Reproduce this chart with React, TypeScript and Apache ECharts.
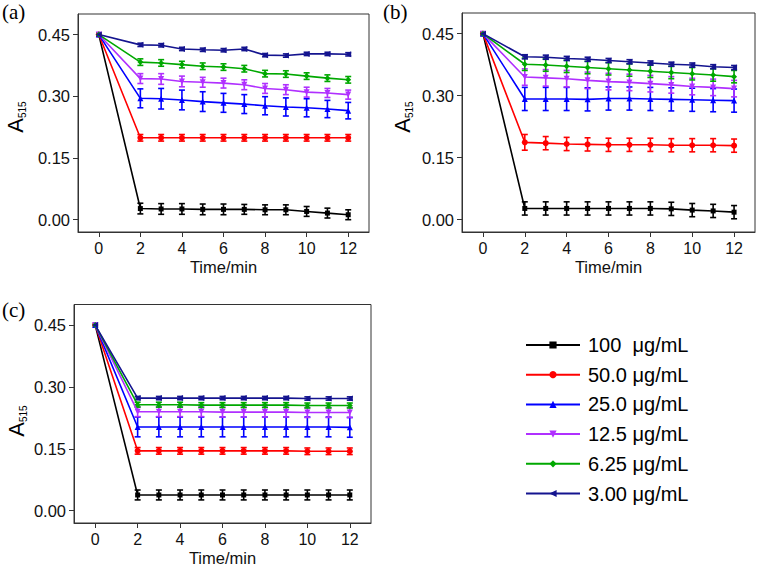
import React, { useEffect, useRef } from "react";
import * as echarts from "echarts";

// ---------- data ----------
const TIME = [0, 2, 3, 4, 5, 6, 7, 8, 9, 10, 11, 12];
const X_TICKS = [0, 2, 4, 6, 8, 10, 12];
const Y_TICKS = [0, 0.15, 0.3, 0.45];
const SERIES_NAMES = ["100  μg/mL", "50.0 μg/mL", "25.0 μg/mL", "12.5 μg/mL", "6.25 μg/mL", "3.00 μg/mL"];
const PANEL_LABELS = ["(a)", "(b)", "(c)"];

// Panel (a)
const a100 = [0.45, 0.027, 0.026, 0.026, 0.025, 0.025, 0.025, 0.024, 0.024, 0.02, 0.016, 0.012];
const a50 = [0.45, 0.199, 0.199, 0.199, 0.199, 0.199, 0.199, 0.199, 0.199, 0.199, 0.199, 0.199];
const a25 = [0.45, 0.295, 0.294, 0.291, 0.287, 0.284, 0.281, 0.277, 0.274, 0.272, 0.269, 0.265];
const a12 = [0.45, 0.343, 0.342, 0.336, 0.334, 0.332, 0.328, 0.319, 0.316, 0.31, 0.308, 0.304];
const a6 = [0.45, 0.383, 0.381, 0.377, 0.373, 0.371, 0.367, 0.355, 0.354, 0.349, 0.344, 0.34];
const a3 = [0.45, 0.425, 0.424, 0.415, 0.413, 0.412, 0.415, 0.4, 0.399, 0.403, 0.403, 0.402];
const aErr100 = [0, 0.013, 0.013, 0.013, 0.013, 0.013, 0.012, 0.012, 0.012, 0.012, 0.012, 0.012];
const aErr50 = [0, 0.008, 0.008, 0.008, 0.008, 0.008, 0.008, 0.008, 0.008, 0.008, 0.008, 0.008];
const aErr25 = [0, 0.023, 0.025, 0.024, 0.024, 0.023, 0.023, 0.022, 0.022, 0.022, 0.021, 0.02];
const aErr12 = [0, 0.012, 0.013, 0.013, 0.012, 0.012, 0.012, 0.012, 0.012, 0.012, 0.011, 0.011];
const aErr6 = [0, 0.008, 0.008, 0.008, 0.008, 0.008, 0.008, 0.008, 0.008, 0.008, 0.008, 0.008];
const aErr3 = [0, 0.004, 0.004, 0.004, 0.004, 0.004, 0.004, 0.004, 0.004, 0.004, 0.004, 0.004];

// Panel (b)
const b100 = [0.45, 0.027, 0.027, 0.027, 0.027, 0.027, 0.027, 0.027, 0.026, 0.023, 0.021, 0.018];
const b50 = [0.45, 0.187, 0.185, 0.183, 0.182, 0.181, 0.181, 0.181, 0.18, 0.18, 0.18, 0.179];
const b25 = [0.45, 0.292, 0.292, 0.292, 0.291, 0.293, 0.293, 0.292, 0.291, 0.29, 0.289, 0.288];
const b12 = [0.45, 0.345, 0.343, 0.341, 0.337, 0.334, 0.332, 0.329, 0.326, 0.322, 0.32, 0.317];
const b6 = [0.45, 0.376, 0.374, 0.371, 0.368, 0.365, 0.362, 0.359, 0.356, 0.353, 0.35, 0.346];
const b3 = [0.45, 0.394, 0.393, 0.39, 0.388, 0.385, 0.382, 0.379, 0.376, 0.374, 0.37, 0.368];
const bErr100 = [0, 0.016, 0.016, 0.016, 0.016, 0.016, 0.016, 0.016, 0.016, 0.016, 0.016, 0.016];
const bErr50 = [0, 0.019, 0.016, 0.016, 0.016, 0.016, 0.016, 0.016, 0.016, 0.016, 0.016, 0.016];
const bErr25 = [0, 0.028, 0.028, 0.028, 0.028, 0.028, 0.028, 0.028, 0.028, 0.028, 0.028, 0.028];
const bErr12 = [0, 0.02, 0.02, 0.02, 0.02, 0.02, 0.02, 0.02, 0.02, 0.02, 0.02, 0.02];
const bErr6 = [0, 0.015, 0.015, 0.015, 0.015, 0.015, 0.015, 0.015, 0.015, 0.015, 0.015, 0.015];
const bErr3 = [0, 0.005, 0.005, 0.005, 0.005, 0.005, 0.005, 0.005, 0.005, 0.005, 0.005, 0.005];

// Panel (c)
const c100 = [0.45, 0.038, 0.038, 0.038, 0.038, 0.038, 0.038, 0.038, 0.038, 0.038, 0.038, 0.038];
const c50 = [0.45, 0.145, 0.145, 0.145, 0.145, 0.145, 0.145, 0.145, 0.145, 0.144, 0.144, 0.144];
const c25 = [0.45, 0.203, 0.203, 0.203, 0.203, 0.203, 0.203, 0.203, 0.203, 0.203, 0.203, 0.202];
const c12 = [0.45, 0.24, 0.24, 0.24, 0.24, 0.239, 0.239, 0.239, 0.239, 0.238, 0.238, 0.238];
const c6 = [0.45, 0.257, 0.257, 0.257, 0.256, 0.256, 0.256, 0.256, 0.256, 0.255, 0.255, 0.255];
const c3 = [0.45, 0.273, 0.273, 0.273, 0.273, 0.273, 0.273, 0.273, 0.273, 0.272, 0.272, 0.272];
const cErr100 = [0, 0.012, 0.012, 0.012, 0.012, 0.012, 0.012, 0.012, 0.012, 0.012, 0.012, 0.012];
const cErr50 = [0, 0.008, 0.008, 0.008, 0.008, 0.008, 0.008, 0.008, 0.008, 0.008, 0.008, 0.008];
const cErr25 = [0, 0.024, 0.024, 0.024, 0.024, 0.024, 0.024, 0.024, 0.024, 0.024, 0.024, 0.024];
const cErr12 = [0, 0.012, 0.012, 0.012, 0.012, 0.012, 0.012, 0.012, 0.012, 0.012, 0.012, 0.012];
const cErr6 = [0, 0.006, 0.006, 0.006, 0.006, 0.006, 0.006, 0.006, 0.006, 0.006, 0.006, 0.006];
const cErr3 = [0, 0.004, 0.004, 0.004, 0.004, 0.004, 0.004, 0.004, 0.004, 0.004, 0.004, 0.004];

const PANEL_VALUES = [
  [a100, a50, a25, a12, a6, a3],
  [b100, b50, b25, b12, b6, b3],
  [c100, c50, c25, c12, c6, c3],
];
const PANEL_ERRORS = [
  [aErr100, aErr50, aErr25, aErr12, aErr6, aErr3],
  [bErr100, bErr50, bErr25, bErr12, bErr6, bErr3],
  [cErr100, cErr50, cErr25, cErr12, cErr6, cErr3],
];

// ---------- styles ----------
const COLORS = ["#000000", "#ff0000", "#0000ff", "#b030ff", "#00a800", "#14148f"];
const SYMBOLS = ["rect", "circle", "triangle", "triangle", "diamond", "triangle"];
const ROTATES = [0, 0, 0, 180, 0, 90];
const FONT = "'Liberation Sans', Arial, sans-serif";
const SERIF = "'Liberation Serif', 'Times New Roman', serif";

const GRIDS = [
  { left: 78, top: 14, width: 291, height: 218 },
  { left: 462, top: 13, width: 293, height: 219 },
  { left: 74, top: 304.5, width: 297, height: 219 },
];
const LABEL_POS = [
  { x: 2, y: 1 },
  { x: 383, y: 1 },
  { x: 2, y: 299 },
];
const YTITLE_POS = [
  { x: 15, y: 117 },
  { x: 402, y: 117 },
  { x: 16, y: 421 },
];

export default function App() {
  const ref = useRef<HTMLDivElement>(null);

  useEffect(() => {
    if (!ref.current) return;
    const chart = echarts.init(ref.current, null, { renderer: "svg" });

    const grid = GRIDS.map((g) => ({
      ...g,
      show: true,
      borderColor: "#333",
      borderWidth: 1,
      backgroundColor: "transparent",
    }));

    const xAxis = GRIDS.map((_, i) => ({
      type: "value",
      gridIndex: i,
      min: -1,
      max: 13,
      name: "Time/min",
      nameLocation: "middle",
      nameGap: 26,
      nameTextStyle: { fontSize: 16.5, fontFamily: FONT, color: "#111" },
      axisLine: { show: true, onZero: false, lineStyle: { color: "#333", width: 1 } },
      axisTick: { show: true, inside: false, length: 5, customValues: X_TICKS, lineStyle: { color: "#333" } },
      axisLabel: { customValues: X_TICKS, fontSize: 16, fontFamily: FONT, color: "#111", margin: 8 },
      splitLine: { show: false },
    }));

    const yAxis = GRIDS.map((_, i) => ({
      type: "value",
      gridIndex: i,
      min: -0.03,
      max: 0.5,
      axisLine: { show: true, onZero: false, lineStyle: { color: "#333", width: 1 } },
      axisTick: { show: true, inside: false, length: 5, customValues: Y_TICKS, lineStyle: { color: "#333" } },
      axisLabel: {
        customValues: Y_TICKS,
        fontSize: 16.5,
        fontFamily: FONT,
        color: "#111",
        margin: 8,
        formatter: (v: number) => v.toFixed(2),
      },
      splitLine: { show: false },
    }));

    const series: any[] = [];
    PANEL_VALUES.forEach((panel, p) => {
      panel.forEach((vals, s) => {
        const errs = PANEL_ERRORS[p][s];
        series.push({
          type: "custom",
          name: "err-" + p + "-" + s,
          xAxisIndex: p,
          yAxisIndex: p,
          z: 2,
          data: TIME.map((t, k) => [t, vals[k] - errs[k], vals[k] + errs[k]]),
          encode: { x: 0, y: [1, 2] },
          renderItem: (params: any, api: any) => {
            const x = api.value(0);
            const lo = api.value(1);
            const hi = api.value(2);
            if (hi - lo <= 0) return null;
            const top = api.coord([x, hi]);
            const bot = api.coord([x, lo]);
            const w = 3;
            const style = { stroke: COLORS[s], lineWidth: 1.6 };
            return {
              type: "group",
              children: [
                { type: "line", shape: { x1: top[0], y1: top[1], x2: bot[0], y2: bot[1] }, style },
                { type: "line", shape: { x1: top[0] - w, y1: top[1], x2: top[0] + w, y2: top[1] }, style },
                { type: "line", shape: { x1: bot[0] - w, y1: bot[1], x2: bot[0] + w, y2: bot[1] }, style },
              ],
            };
          },
        });
        series.push({
          type: "line",
          name: SERIES_NAMES[s],
          xAxisIndex: p,
          yAxisIndex: p,
          z: 3,
          data: TIME.map((t, k) => [t, vals[k]]),
          symbol: SYMBOLS[s],
          symbolSize: s === 0 ? 5 : 6,
          symbolRotate: ROTATES[s],
          showSymbol: true,
          lineStyle: { color: COLORS[s], width: 1.6 },
          itemStyle: { color: COLORS[s] },
        });
      });
    });

    const graphic: any[] = [];
    PANEL_LABELS.forEach((lab, i) => {
      graphic.push({
        type: "text",
        left: LABEL_POS[i].x,
        top: LABEL_POS[i].y,
        style: { text: lab, fontSize: 21, fontFamily: SERIF, fill: "#000" },
      });
      graphic.push({
        type: "text",
        x: YTITLE_POS[i].x,
        y: YTITLE_POS[i].y,
        rotation: Math.PI / 2,
        style: {
          text: "{a|A}{s|515}",
          align: "center",
          verticalAlign: "middle",
          fill: "#000",
          rich: {
            a: { fontSize: 22, fontFamily: FONT, fill: "#000", lineHeight: 24 },
            s: { fontSize: 10, fontFamily: FONT, fill: "#000", verticalAlign: "bottom", lineHeight: 24 },
          },
        },
      });
    });

    chart.setOption({
      animation: false,
      backgroundColor: "#fff",
      grid,
      xAxis,
      yAxis,
      series,
      graphic,
      legend: {
        data: SERIES_NAMES,
        orient: "vertical",
        left: 520,
        top: 330,
        itemWidth: 54,
        itemHeight: 9,
        itemGap: 9.7,
        selectedMode: false,
        textStyle: { fontSize: 20, fontFamily: FONT, color: "#000", lineHeight: 20, padding: [0, 0, 0, 3] },
      },
    });

    return () => chart.dispose();
  }, []);

  return (
    <div
      ref={ref}
      style={{ position: "fixed", left: 0, top: 0, width: 759, height: 567, background: "#fff" }}
    />
  );
}
